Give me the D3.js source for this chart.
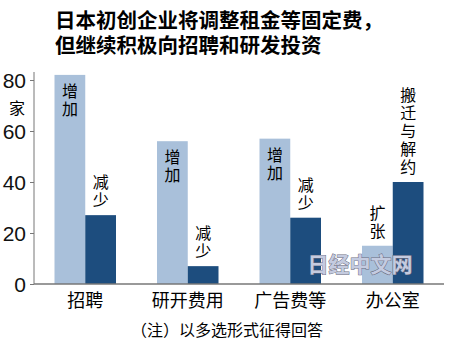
<!DOCTYPE html>
<html>
<head>
<meta charset="utf-8">
<script src="https://cdn.jsdelivr.net/npm/d3@7"></script>
<style>
  body { margin: 0; background: #fff; }
  svg { display: block; }
  .cjk { font-family: "Noto Sans CJK SC", sans-serif; }
  .vert { writing-mode: vertical-rl; letter-spacing: 2px; }
</style>
</head>
<body>
<svg id="chart" width="450" height="348"></svg>
<script>
// data
const titleLines = ['日本初创企业将调整租金等固定费，', '但继续积极向招聘和研发投资'];
const categories = ['招聘', '研开费用', '广告费等', '办公室'];
const seriesKeys = ['a', 'b'];
const incValues = [82, 56, 57, 15];   // light bars
const decValues = [27, 7, 26, 40];    // dark bars
const incLabels = ['增加', '增加', '增加', '扩张'];
const decLabels = ['减少', '减少', '减少', '搬迁与解约'];
const yTicks = [0, 20, 40, 60, 80];
const unitLabel = '家';
const note = '（注）以多选形式征得回答';

const colors = { a: '#a9c0da', b: '#1d4d7e' };

const svg = d3.select('#chart');

const x0 = d3.scaleBand().domain(categories).range([34, 444]).paddingInner(0.4).paddingOuter(0.2);
const x1 = d3.scaleBand().domain(seriesKeys).range([0, x0.bandwidth()]);
const y = d3.scaleLinear().domain([0, 80]).range([284, 80]);

// title
svg.append('g').selectAll('text')
    .data(titleLines)
    .join('text')
    .attr('class', 'cjk')
    .attr('x', 55)
    .attr('y', (d, i) => 28 + i * 25)
    .attr('font-size', 20.5)
    .attr('font-weight', 'bold')
    .text(d => d);

// y axis
const yAxis = svg.append('g')
    .attr('transform', 'translate(34,0)')
    .call(d3.axisLeft(y).tickValues(yTicks).tickSize(4).tickPadding(4));
yAxis.select('.domain').attr('d', `M0,${y(0)}V72`).attr('stroke', '#777');
yAxis.selectAll('.tick line').attr('stroke', '#777');
yAxis.selectAll('.tick text')
    .attr('font-family', '"Liberation Sans Narrow", "Liberation Sans", sans-serif')
    .attr('font-size', 21)
    .attr('fill', '#111')
    .attr('dy', '0.36em');

svg.append('text')
    .attr('class', 'cjk')
    .attr('x', 17)
    .attr('y', 114)
    .attr('text-anchor', 'middle')
    .attr('font-size', 16)
    .text(unitLabel);

// bars
const rows = categories.map((c, i) => ({ cat: c, a: incValues[i], b: decValues[i], la: incLabels[i], lb: decLabels[i] }));

const groups = svg.append('g').selectAll('g')
    .data(rows)
    .join('g')
    .attr('transform', d => `translate(${x0(d.cat)},0)`);

groups.selectAll('rect')
    .data(d => seriesKeys.map(k => ({ key: k, value: d[k] })))
    .join('rect')
    .attr('x', d => x1(d.key))
    .attr('y', d => y(d.value))
    .attr('width', x1.bandwidth())
    .attr('height', d => y(0) - y(d.value))
    .attr('fill', d => colors[d.key]);

// vertical labels, one character per line (18px pitch)
const pitch = 18;
function vLabel(g, key, text, value, inside) {
    const n = Array.from(text).length;
    const top = y(value);
    const cx = x1(key) + x1.bandwidth() / 2;
    const start = inside ? top + 8 : top - 5 - n * pitch;
    g.append('text')
        .attr('class', 'cjk vert')
        .attr('x', cx)
        .attr('y', start)
        .attr('font-size', 16)
        .text(text);
}
groups.each(function(d) {
    const g = d3.select(this);
    vLabel(g, 'a', d.la, d.a, d.a > 40);
    vLabel(g, 'b', d.lb, d.b, false);
});

// x axis
svg.append('line')
    .attr('x1', 34).attr('x2', 444)
    .attr('y1', y(0)).attr('y2', y(0))
    .attr('stroke', '#777').attr('stroke-width', 1.5);

svg.append('g').selectAll('text')
    .data(categories)
    .join('text')
    .attr('class', 'cjk')
    .attr('x', d => x0(d) + x0.bandwidth() / 2)
    .attr('y', 307)
    .attr('text-anchor', 'middle')
    .attr('font-size', 18)
    .text(d => d);

svg.append('text')
    .attr('class', 'cjk')
    .attr('x', 227)
    .attr('y', 336)
    .attr('text-anchor', 'middle')
    .attr('font-size', 16)
    .text(note);

// watermark
svg.append('text')
    .attr('class', 'cjk')
    .attr('x', 360)
    .attr('y', 272)
    .attr('text-anchor', 'middle')
    .attr('font-size', 21)
    .attr('font-weight', 'bold')
    .attr('fill', '#c4cbe0')
    .attr('stroke', '#6e6e80')
    .attr('stroke-width', 1)
    .attr('paint-order', 'stroke')
    .text('日经中文网');
</script>
</body>
</html>
